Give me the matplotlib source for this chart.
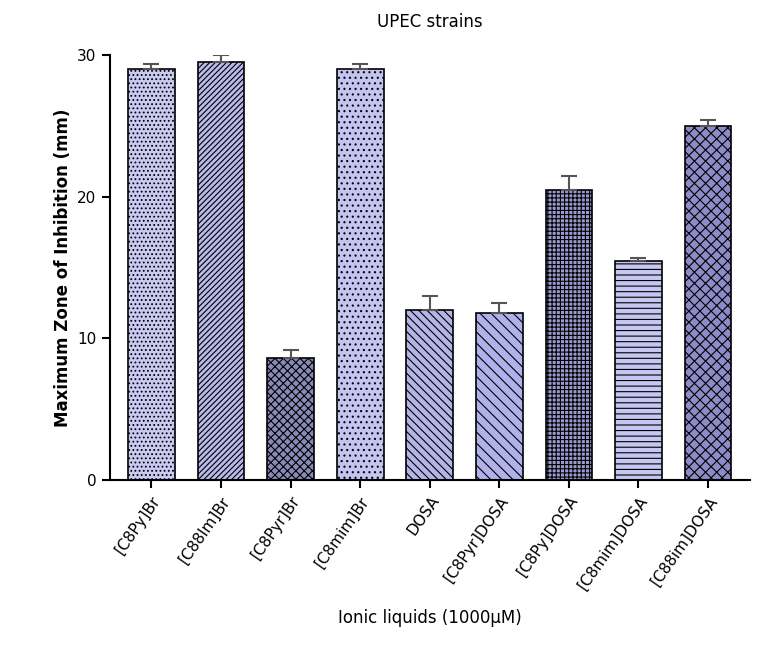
import matplotlib.pyplot as plt
import matplotlib as mpl

labels = ["[C8Py]Br", "[C88Im]Br", "[C8Pyr]Br", "[C8mim]Br", "DOSA",
          "[C8Pyr]DOSA", "[C8Py]DOSA", "[C8mim]DOSA", "[C88im]DOSA"]
values = [29.0, 29.5, 8.6, 29.0, 12.0, 11.8, 20.5, 15.5, 25.0]
errors = [0.4, 0.5, 0.6, 0.4, 1.0, 0.7, 1.0, 0.2, 0.4]
hatches = ["....", "//////", "xxxx", "...", "\\\\\\\\", "\\\\\\", "++++", "---", "xxx"]
faces = ["#c9c9f2", "#b9b9ec", "#8a8ab8", "#c4c4f0", "#b4b4e8",
         "#b0b0ea", "#9a9ad0", "#c6c6f2", "#8c8cc8"]

mpl.rcParams["hatch.color"] = "#4a4a8a"
mpl.rcParams["hatch.linewidth"] = 0.8

fig = plt.figure(figsize=(7.62, 6.48), dpi=100)
ax = fig.add_axes([0.144, 0.259, 0.84, 0.656])

x = range(len(labels))
ax.bar(x, values, width=0.67, color=faces, edgecolor="black", linewidth=1.2,
       hatch=hatches, zorder=2)
ax.errorbar(x, values, yerr=[[0] * len(errors), errors], fmt="none",
            ecolor="#555555", elinewidth=1.5, capsize=6, capthick=1.5, zorder=3)

ax.set_xlim(-0.6, len(labels) - 0.4)
ax.set_ylim(0, 30)
ax.set_yticks([0, 10, 20, 30])
ax.set_xticks(list(x))
ax.set_xticklabels(labels, rotation=55, ha="right", rotation_mode="anchor", fontsize=11)
ax.tick_params(axis="y", labelsize=11, width=1.5, length=6)
ax.tick_params(axis="x", width=1.5, length=6)
for s in ["top", "right"]:
    ax.spines[s].set_visible(False)
for s in ["left", "bottom"]:
    ax.spines[s].set_linewidth(1.5)

ax.set_ylabel("Maximum Zone of Inhibition (mm)", fontsize=12, fontweight="bold")
ax.set_xlabel("Ionic liquids (1000\u03bcM)", fontsize=12, labelpad=12)
ax.set_title("UPEC strains", fontsize=12, pad=20)

fig.savefig("out.png")
